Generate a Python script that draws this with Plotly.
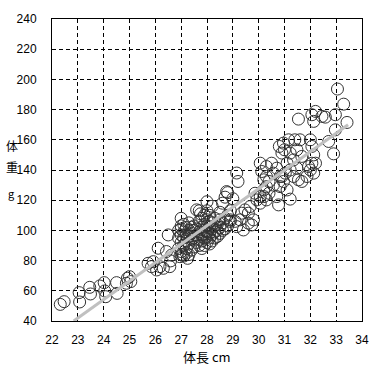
import plotly.graph_objects as go

# Body length (cm) and body weight (g)
length_cm = [
    22.32, 22.47, 23.05, 23.07, 23.46, 23.49, 24.02, 24.04, 23.85, 24.08,
    24.50, 24.52, 24.92, 25.00, 25.05, 24.88, 25.72, 25.85, 25.92, 26.11,
    26.18, 26.05, 26.50, 26.43, 26.59, 26.56, 26.31, 26.63,
    26.9, 26.9, 26.9, 27.0, 27.0, 27.0, 27.0, 27.0, 27.0,
    27.1, 27.1, 27.1, 27.1, 27.1, 27.2, 27.2, 27.2, 27.2, 27.2,
    27.3, 27.3, 27.3, 27.3, 27.3, 27.4, 27.4, 27.4, 27.4,
    27.5, 27.5, 27.5, 27.5, 27.6, 27.6, 27.6,
    27.7, 27.7, 27.7, 27.7, 27.7, 27.8, 27.8, 27.8, 27.8, 27.8,
    27.9, 27.9, 27.9, 27.9, 27.9, 28.0, 28.0, 28.0, 28.0, 28.0, 28.0, 28.0,
    28.1, 28.1, 28.1, 28.1, 28.1, 28.1, 28.2, 28.2, 28.2, 28.2, 28.2,
    28.3, 28.3, 28.3, 28.3, 28.4, 28.4, 28.4, 28.5, 28.5, 28.5, 28.5,
    28.6, 28.6, 28.6, 28.7, 28.7, 28.7, 28.8, 28.8, 28.8, 28.9, 28.9,
    26.95, 27.05, 27.25, 27.0, 27.6, 27.75,
    28.76, 29.15, 29.20, 29.00, 28.90, 29.09, 29.15, 29.60, 29.73, 29.80,
    29.60, 29.67, 29.47, 29.86, 29.93, 30.06, 29.28, 29.41, 29.34,
    30.06, 30.12, 30.20, 30.30, 30.40, 30.30, 30.20, 30.57, 30.77, 31.22, 30.70,
    30.06, 30.20, 30.30, 30.40, 30.57, 30.70, 30.50, 30.30, 30.83, 30.96, 30.83, 31.10,
    30.80, 30.96, 30.90, 31.00, 31.16, 31.22, 31.35, 31.10, 31.22, 31.03,
    30.90, 31.35, 31.48, 31.54, 31.40, 31.60, 31.48, 31.67,
    32.00, 32.06, 32.13, 32.06, 32.00, 32.13, 31.87, 31.67, 31.93, 32.20,
    31.54, 32.06, 32.20, 32.13, 32.45, 32.58, 32.97, 32.71, 32.90, 32.97,
    33.05, 33.29, 33.42,
]
weight_g = [
    51.0, 52.8, 58.8, 52.6, 62.3, 57.9, 65.4, 59.9, 63.2, 56.1,
    65.4, 58.3, 68.3, 69.4, 66.1, 65.0, 78.2, 76.0, 79.3, 88.2,
    76.0, 73.8, 97.0, 86.0, 79.8, 76.0, 74.9, 83.7,
    88, 95, 100, 84, 86, 92, 97, 101, 103,
    83, 90, 95, 99, 104, 85, 88, 93, 97, 102,
    84, 91, 96, 100, 105, 87, 94, 98, 102,
    89, 95, 100, 103, 92, 97, 101,
    90, 94, 99, 106, 113, 88, 93, 97, 102, 108,
    90, 95, 100, 104, 110, 92, 96, 99, 103, 107, 113, 119,
    91, 95, 98, 102, 106, 110, 93, 97, 101, 105, 116,
    95, 99, 103, 108, 96, 100, 104, 98, 102, 107, 112,
    100, 105, 118, 101, 108, 122, 103, 110, 125, 106, 113,
    82.6, 84.0, 81.5, 108.0, 113.6, 111.0,
    125.7, 138.0, 132.4, 121.0, 107.0, 106.0, 102.5, 104.8, 103.6, 107.0,
    111.4, 115.8, 113.6, 124.6, 120.2, 122.4, 107.0, 100.3, 111.4,
    144.5, 139.0, 133.5, 135.7, 132.4, 129.0, 126.8, 130.0, 116.9, 120.7, 122.4,
    118.0, 122.4, 120.2, 124.6, 137.9, 141.2, 144.5, 142.3, 129.0, 132.4, 135.7, 126.8,
    155.6, 157.8, 151.2, 153.4, 160.0, 151.2, 146.7, 144.5, 140.0, 137.9,
    135.7, 135.7, 141.2, 133.5, 160.0, 160.0, 153.4, 149.0,
    160.0, 155.6, 150.0, 144.5, 140.0, 137.9, 135.7, 132.4, 142.3, 144.5,
    173.7, 176.6, 178.8, 172.2, 175.5, 175.0, 176.6, 158.9, 150.7, 166.6,
    193.6, 183.6, 171.5,
]

# Trend line end points
trend_x = [22.84, 33.46]
trend_y = [40.0, 170.0]

x_ticks = list(range(22, 35))
y_ticks = list(range(40, 241, 20))

fig = go.Figure()
fig.add_trace(go.Scatter(
    x=length_cm, y=weight_g, mode="markers",
    marker=dict(symbol="circle-open", size=12, color="#333333",
                line=dict(width=1, color="#333333")),
    showlegend=False, hoverinfo="skip",
))
fig.add_trace(go.Scatter(
    x=trend_x, y=trend_y, mode="lines",
    line=dict(color="#c0c0c0", width=3),
    showlegend=False, hoverinfo="skip",
))

axis_common = dict(
    showgrid=True, gridcolor="black", gridwidth=1, griddash="4px,3px",
    showline=True, linecolor="black", linewidth=1, mirror=True,
    zeroline=False, ticks="", automargin=False,
    tickfont=dict(family="Liberation Sans", size=12, color="black"),
)
fig.update_xaxes(range=[22, 34], tickvals=x_ticks, ticklabelstandoff=8, **axis_common)
fig.update_yaxes(range=[40, 240], tickvals=y_ticks, ticklabelstandoff=12, **axis_common)

cjk = dict(family="Noto Sans CJK JP", size=13, color="black")
fig.add_annotation(text="体長 cm", x=0.5, y=-0.119, xref="paper", yref="paper",
                   showarrow=False, font=cjk, xanchor="center", yanchor="middle")
for txt, yy, sz in [("体", 0.582, 12), ("重", 0.51, 12), ("g", 0.424, 11)]:
    fig.add_annotation(text=txt, x=-0.13, y=yy, xref="paper", yref="paper",
                       showarrow=False, font=dict(cjk, size=sz),
                       xanchor="center", yanchor="middle")

fig.update_layout(
    width=374, height=371,
    margin=dict(l=52, r=12, t=19, b=50, autoexpand=False),
    plot_bgcolor="white", paper_bgcolor="white",
)
fig.write_html(
    "out.html",
    config={"displayModeBar": False},
    post_script="document.body.style.margin='0';document.body.style.overflow='hidden';",
)
